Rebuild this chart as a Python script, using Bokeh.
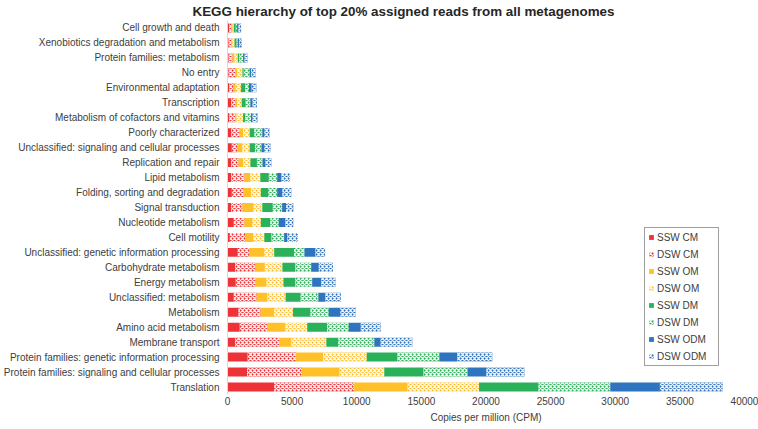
from bokeh.plotting import figure
from bokeh.models import ColumnDataSource, FactorRange, Range1d, FixedTicker, Legend, LegendItem
from bokeh.transform import stack
from bokeh.embed import file_html
from bokeh.resources import INLINE

categories = [
    "Cell growth and death",
    "Xenobiotics degradation and metabolism",
    "Protein families: metabolism",
    "No entry",
    "Environmental adaptation",
    "Transcription",
    "Metabolism of cofactors and vitamins",
    "Poorly characterized",
    "Unclassified: signaling and cellular processes",
    "Replication and repair",
    "Lipid metabolism",
    "Folding, sorting and degradation",
    "Signal transduction",
    "Nucleotide metabolism",
    "Cell motility",
    "Unclassified: genetic information processing",
    "Carbohydrate metabolism",
    "Energy metabolism",
    "Unclassified: metabolism",
    "Metabolism",
    "Amino acid metabolism",
    "Membrane transport",
    "Protein families: genetic information processing",
    "Protein families: signaling and cellular processes",
    "Translation",
]

series_names = ["SSW CM", "DSW CM", "SSW OM", "DSW OM", "SSW DM", "DSW DM", "SSW ODM", "DSW ODM"]

ssw_cm  = [130, 84, 84, 84, 130, 284, 130, 284, 338, 284, 284, 338, 284, 491, 184, 798, 591, 644, 491, 852, 951, 591, 1565, 1511, 3613]
dsw_cm  = [154, 200, 307, 507, 361, 307, 461, 667, 460, 568, 1028, 920, 874, 821, 1228, 867, 1534, 1535, 1765, 1710, 2125, 3429, 3736, 4250, 6184]
ssw_om  = [107, 77, 154, 153, 153, 153, 107, 253, 360, 352, 460, 560, 867, 614, 590, 1181, 767, 844, 843, 1051, 1404, 921, 2094, 2916, 4143]
dsw_om  = [100, 184, 253, 414, 407, 361, 506, 514, 560, 568, 767, 767, 668, 659, 844, 767, 1358, 1304, 1404, 1458, 1688, 2708, 3376, 3452, 5523]
ssw_dm  = [153, 153, 100, 100, 307, 307, 154, 361, 407, 506, 660, 568, 813, 721, 560, 1535, 997, 920, 1151, 1350, 1534, 920, 2378, 3038, 4603]
dsw_dm  = [100, 100, 306, 460, 307, 360, 460, 614, 514, 438, 644, 690, 721, 660, 974, 813, 1228, 1304, 1381, 1412, 1688, 2793, 3245, 3406, 5554]
ssw_odm = [108, 100, 108, 100, 207, 154, 108, 153, 207, 230, 330, 407, 307, 514, 254, 844, 591, 691, 537, 890, 921, 483, 1381, 1458, 3836]
dsw_odm = [199, 207, 253, 361, 361, 353, 406, 407, 484, 460, 668, 691, 560, 614, 821, 744, 1097, 1128, 1204, 1204, 1534, 2455, 2716, 2941, 4856]

x_ticks = [0, 5000, 10000, 15000, 20000, 25000, 30000, 35000, 40000]

title_text = "KEGG hierarchy of top 20% assigned reads from all metagenomes"

keys = ["ssw_cm", "dsw_cm", "ssw_om", "dsw_om", "ssw_dm", "dsw_dm", "ssw_odm", "dsw_odm"]
source = ColumnDataSource(dict(cat=categories, ssw_cm=ssw_cm, dsw_cm=dsw_cm, ssw_om=ssw_om,
                               dsw_om=dsw_om, ssw_dm=ssw_dm, dsw_dm=dsw_dm,
                               ssw_odm=ssw_odm, dsw_odm=dsw_odm))

red, yellow, green, blue = "#EE3338", "#FFC02A", "#2AB15A", "#2F74BF"
colors = [red, red, yellow, yellow, green, green, blue, blue]
hatched = [False, True, False, True, False, True, False, True]

FONT = "Liberation Sans"

p = figure(width=758, height=429,
           y_range=FactorRange(factors=categories[::-1], range_padding=0),
           x_range=Range1d(0, 40000),
           output_backend="svg", toolbar_location=None,
           title=title_text,
           min_border_right=14, min_border_top=0, min_border_bottom=35, min_border_left=0)

items = []
for i, k in enumerate(keys):
    kw = dict(fill_color=colors[i], line_color=None)
    if hatched[i]:
        kw.update(hatch_pattern="diagonal_cross", hatch_color="white",
                  hatch_scale=4, hatch_weight=1.3, hatch_alpha=0.9)
    r = p.hbar(y="cat", left=stack(*keys[:i]), right=stack(*keys[:i + 1]),
               height=0.6, source=source, **kw)
    items.append(LegendItem(label=series_names[i], renderers=[r]))

legend = Legend(items=items, location=(417, 28),
                border_line_color="#404040", border_line_width=1,
                background_fill_color="white", background_fill_alpha=1,
                label_text_font=FONT, label_text_font_size="10px",
                label_text_color="#404040",
                glyph_width=6, glyph_height=6, label_height=12,
                label_standoff=3, spacing=5, padding=3, margin=0,
                label_width=58)
p.add_layout(legend, "center")

p.title.text_font = FONT
p.title.text_font_size = "13.4px"
p.title.text_font_style = "bold"
p.title.text_color = "#262626"
p.title.align = "left"
p.title.offset = -35
p.title.standoff = 3

p.xgrid.grid_line_color = None
p.ygrid.grid_line_color = None
p.outline_line_color = None

p.yaxis.axis_line_color = "#D9D9D9"
p.yaxis.major_tick_line_color = None
p.yaxis.minor_tick_line_color = None
p.yaxis.major_tick_out = 0
p.yaxis.major_tick_in = 0
p.yaxis.minor_tick_out = 0
p.yaxis.major_label_standoff = 8
p.yaxis.major_label_text_font = FONT
p.yaxis.major_label_text_font_size = "10px"
p.yaxis.major_label_text_color = "#404040"

p.xaxis.ticker = FixedTicker(ticks=x_ticks)
p.xaxis.axis_line_color = None
p.xaxis.major_tick_line_color = None
p.xaxis.minor_tick_line_color = None
p.xaxis.major_tick_out = 0
p.xaxis.major_tick_in = 0
p.xaxis.minor_tick_out = 0
p.xaxis.major_label_standoff = 2
p.xaxis.major_label_text_font = FONT
p.xaxis.major_label_text_font_size = "10px"
p.xaxis.major_label_text_color = "#404040"
p.xaxis.axis_label = "Copies per million (CPM)"
p.xaxis.axis_label_text_font = FONT
p.xaxis.axis_label_text_font_size = "10px"
p.xaxis.axis_label_text_font_style = "normal"
p.xaxis.axis_label_text_color = "#404040"
p.xaxis.axis_label_standoff = 4

open("out.html", "w").write(file_html(p, INLINE))
